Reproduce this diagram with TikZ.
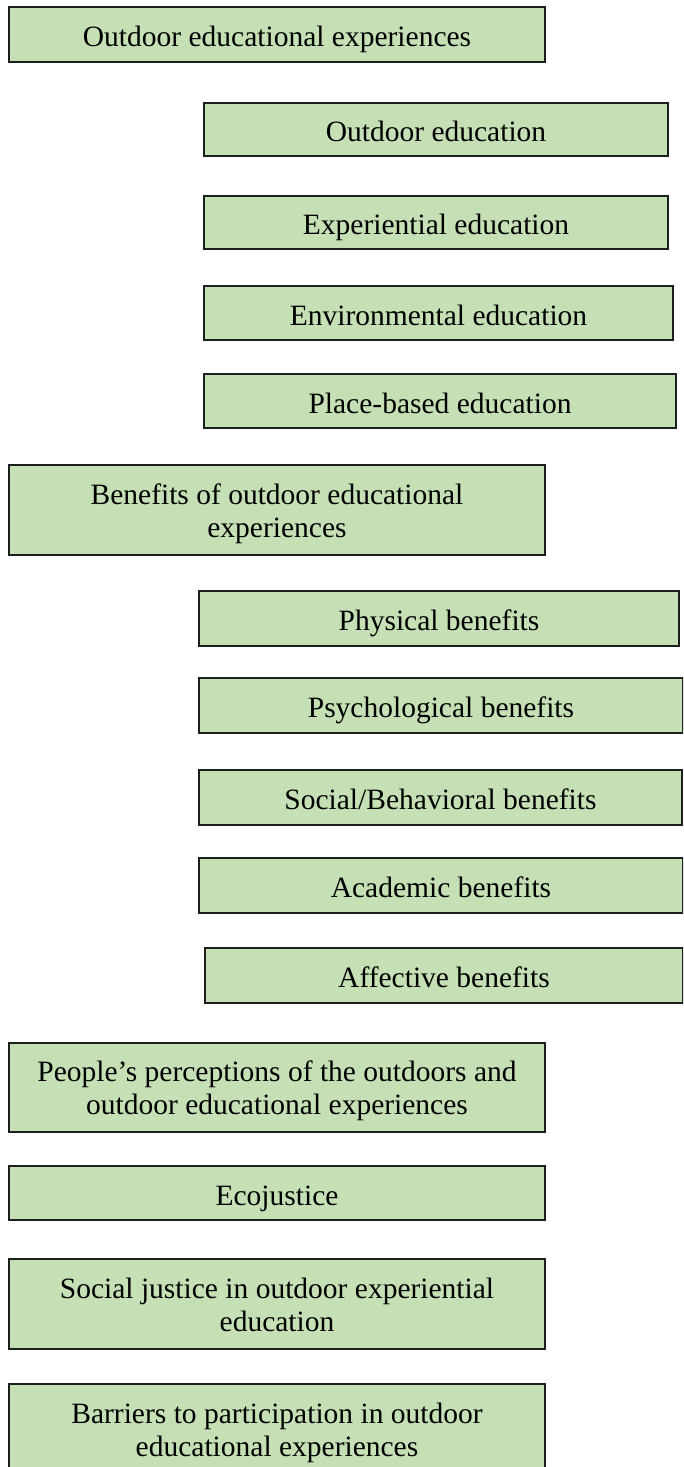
\documentclass[tikz,border=0pt]{standalone}
\usepackage{fontspec}
\setmainfont{Liberation Serif}
\definecolor{boxgreen}{HTML}{C5E0B4}
\definecolor{boxline}{HTML}{1E1E1E}
% text of a box, lines stacked and centred, baseline on the last line
\newcommand{\cellstack}[1]{\begin{tabular}[b]{@{}c@{}}#1\end{tabular}}
\begin{document}
\begin{tikzpicture}[x=1pt, y=-1pt,
  box/.style={rectangle, draw=boxline, line width=2.3pt, fill=boxgreen,
    inner sep=0pt, font=\fontsize{29.5}{33}\selectfont, text depth=2pt},
  one/.style={box, text height=26pt},
  two/.style={box, text height=56pt}]
\useasboundingbox (0,0) rectangle (683,1467);
\fill[white] (0,0) rectangle (683,1467);
\clip (0,0) rectangle (683,1467);

% first topic and its kinds of education
\node[one, minimum width=536pt, minimum height=55pt] (oee) at (277,34.5)
  {\cellstack{Outdoor educational experiences}};
\node[one, minimum width=464pt, minimum height=53pt] (od) at (436,129.5)
  {\cellstack{Outdoor education}};
\node[one, minimum width=464pt, minimum height=53pt] (ex) at (436,222.5)
  {\cellstack{Experiential education}};
\node[one, minimum width=469pt, minimum height=54pt] (en) at (438.5,313)
  {\cellstack{Environmental education}};
\node[one, minimum width=472pt, minimum height=54pt] (pb) at (440,401)
  {\cellstack{Place-based education}};

% benefits
\node[two, minimum width=536pt, minimum height=90pt] (ben) at (277,510)
  {\cellstack{Benefits of outdoor educational\\experiences}};
\node[one, minimum width=480pt, minimum height=55pt] (phy) at (439,618.5)
  {\cellstack{Physical benefits}};
\node[one, minimum width=484pt, minimum height=55pt] (psy) at (441,705.5)
  {\cellstack{Psychological benefits}};
\node[one, minimum width=483pt, minimum height=55pt] (soc) at (440.5,797.5)
  {\cellstack{Social/Behavioral benefits}};
\node[one, minimum width=484pt, minimum height=55pt] (aca) at (441,885.5)
  {\cellstack{Academic benefits}};
\node[one, minimum width=478pt, minimum height=55pt] (aff) at (444,975.5)
  {\cellstack{Affective benefits}};

% remaining topics
\node[two, minimum width=536pt, minimum height=89pt] (per) at (277,1087.5)
  {\cellstack{People’s perceptions of the outdoors and\\outdoor educational experiences}};
\node[one, minimum width=536pt, minimum height=54pt] (eco) at (277,1193)
  {\cellstack{Ecojustice}};
\node[two, minimum width=536pt, minimum height=90pt] (sj) at (277,1304)
  {\cellstack{Social justice in outdoor experiential\\education}};
\node[two, minimum width=536pt, minimum height=90pt] (bar) at (277,1429)
  {\cellstack{Barriers to participation in outdoor\\educational experiences}};
\end{tikzpicture}
\end{document}
